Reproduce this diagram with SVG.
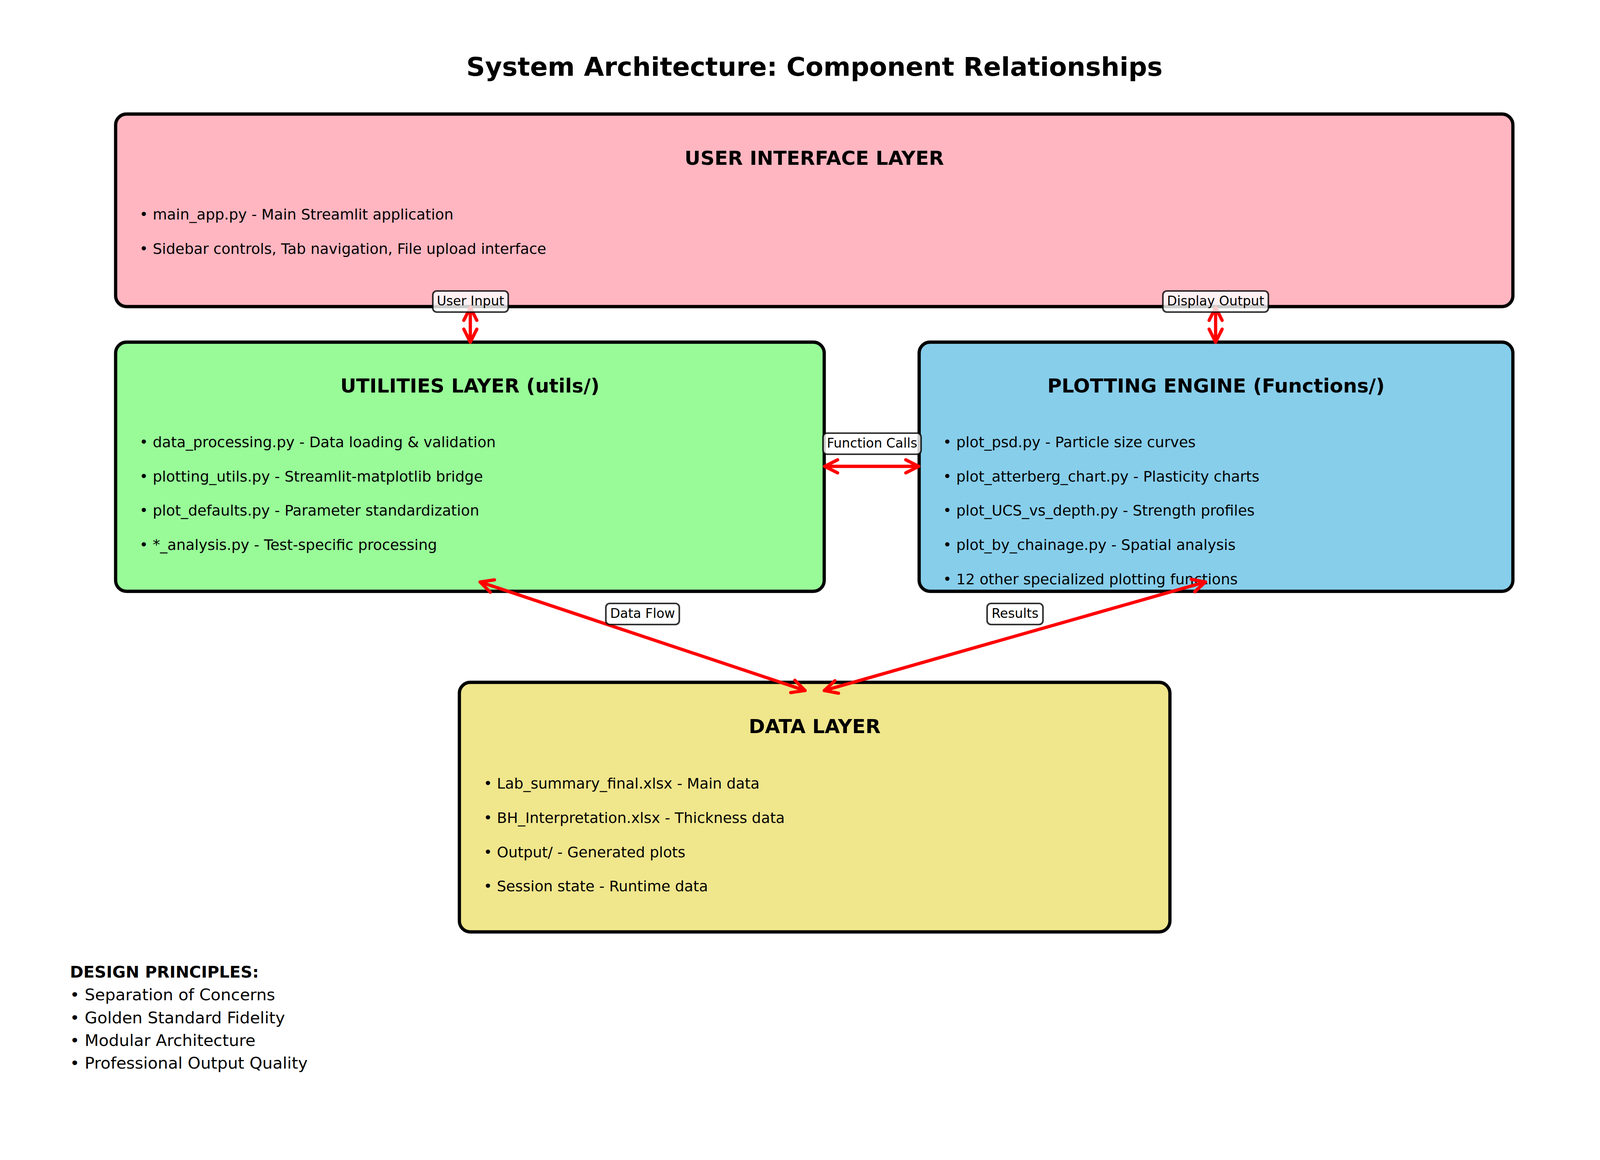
<svg xmlns="http://www.w3.org/2000/svg" width="4170" height="2970" viewBox="0 0 4170 2970">
<style>
text { font-family: "DejaVu Sans", "Liberation Sans", sans-serif; fill: #000; }
.title { font-size: 66.7px; font-weight: bold; text-anchor: middle; }
.hdr { font-size: 50px; font-weight: bold; text-anchor: middle; }
.item { font-size: 37.5px; }
.lbl { font-size: 33.3px; text-anchor: middle; }
.note { font-size: 41.7px; }
.notehdr { font-size: 41.7px; font-weight: bold; }
.box { stroke: #000; stroke-width: 8.33; }
.arrow { stroke: #f00; stroke-width: 8.33; fill: none; stroke-linecap: round; marker-start: url(#head); marker-end: url(#head); }
.lblbox { fill: #fff; fill-opacity: 0.8; stroke: #000; stroke-opacity: 0.8; stroke-width: 4.17; }
</style>
<defs>
<marker id="head" markerUnits="userSpaceOnUse" viewBox="-45 -25 50 50" refX="0" refY="0" markerWidth="50" markerHeight="50" orient="auto-start-reverse" overflow="visible">
<path d="M -33.3 -16.7 L 0 0 L -33.3 16.7" fill="none" stroke="#f00" stroke-width="8.33" stroke-linecap="round" stroke-linejoin="round"/>
</marker>
</defs>
<rect x="0" y="0" width="4170" height="2970" fill="#fff"/>
<text class="title" x="2085" y="194">System Architecture: Component Relationships</text>

<g id="ui-layer">
<rect class="box" x="296" y="292" width="3577" height="493" rx="28" fill="#FFB6C1"/>
<text class="hdr" x="2084.5" y="422">USER INTERFACE LAYER</text>
<text class="item" x="357" y="562">• main_app.py - Main Streamlit application</text>
<text class="item" x="357" y="650">• Sidebar controls, Tab navigation, File upload interface</text>
</g>

<g id="utilities-layer">
<rect class="box" x="296" y="876" width="1814" height="638" rx="28" fill="#98FB98"/>
<text class="hdr" x="1203" y="1005">UTILITIES LAYER (utils/)</text>
<text class="item" x="357" y="1145">• data_processing.py - Data loading &amp; validation</text>
<text class="item" x="357" y="1233">• plotting_utils.py - Streamlit-matplotlib bridge</text>
<text class="item" x="357" y="1320">• plot_defaults.py - Parameter standardization</text>
<text class="item" x="357" y="1408">• *_analysis.py - Test-specific processing</text>
</g>

<g id="plotting-engine">
<rect class="box" x="2353" y="876" width="1520" height="638" rx="28" fill="#87CEEB"/>
<text class="hdr" x="3113" y="1005">PLOTTING ENGINE (Functions/)</text>
<text class="item" x="2414" y="1145">• plot_psd.py - Particle size curves</text>
<text class="item" x="2414" y="1233">• plot_atterberg_chart.py - Plasticity charts</text>
<text class="item" x="2414" y="1320">• plot_UCS_vs_depth.py - Strength profiles</text>
<text class="item" x="2414" y="1408">• plot_by_chainage.py - Spatial analysis</text>
<text class="item" x="2414" y="1496">• 12 other specialized plotting functions</text>
</g>

<g id="data-layer">
<rect class="box" x="1176" y="1747" width="1819" height="639" rx="28" fill="#F0E68C"/>
<text class="hdr" x="2085.5" y="1877">DATA LAYER</text>
<text class="item" x="1238" y="2019">• Lab_summary_final.xlsx - Main data</text>
<text class="item" x="1238" y="2107">• BH_Interpretation.xlsx - Thickness data</text>
<text class="item" x="1238" y="2195">• Output/ - Generated plots</text>
<text class="item" x="1238" y="2282">• Session state - Runtime data</text>
</g>

<g id="connectors">
<path class="arrow" d="M 1204 787 L 1204 876"/>
<path class="arrow" d="M 3112 787 L 3112 876"/>
<path class="arrow" d="M 2111 1194 L 2352 1194"/>
<path class="arrow" d="M 1229 1490 L 2061 1768"/>
<path class="arrow" d="M 3086 1490 L 2110 1768"/>
<rect class="lblbox" x="1108" y="745" width="193" height="54" rx="10"/>
<text class="lbl" x="1204.5" y="782">User Input</text>
<rect class="lblbox" x="2977" y="745" width="270" height="54" rx="10"/>
<text class="lbl" x="3112" y="782">Display Output</text>
<rect class="lblbox" x="2107" y="1109" width="251" height="54" rx="10"/>
<text class="lbl" x="2232.5" y="1146">Function Calls</text>
<rect class="lblbox" x="1551" y="1545" width="188" height="54" rx="10"/>
<text class="lbl" x="1645" y="1582">Data Flow</text>
<rect class="lblbox" x="2527" y="1545" width="143" height="54" rx="10"/>
<text class="lbl" x="2598.5" y="1582">Results</text>
</g>

<g id="design-principles">
<text class="notehdr" x="179" y="2503">DESIGN PRINCIPLES:</text>
<text class="note" x="179" y="2561">• Separation of Concerns</text>
<text class="note" x="179" y="2620">• Golden Standard Fidelity</text>
<text class="note" x="179" y="2678">• Modular Architecture</text>
<text class="note" x="179" y="2736">• Professional Output Quality</text>
</g>
</svg>
